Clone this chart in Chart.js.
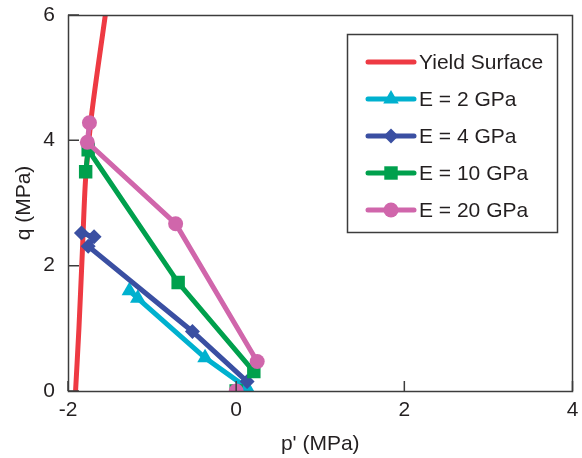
<!DOCTYPE html>
<html>
<head>
<meta charset="utf-8">
<script src="https://cdn.jsdelivr.net/npm/chart.js@4.4.1/dist/chart.umd.min.js"></script>
<style>
  html, body { margin: 0; padding: 0; background: #fff; }
</style>
</head>
<body>
<canvas id="myChart" width="582" height="458"></canvas>
<script>
// p' and q (MPa)
var seriesNames = ['Yield Surface', 'E = 2 GPa', 'E = 4 GPa', 'E = 10 GPa', 'E = 20 GPa'];
var yieldP = [-1.91, -1.87, -1.83, -1.79, -1.72, -1.556];
var yieldQ = [0, 1.0, 2.2, 3.4, 4.4, 6.0];
var e2P = [0.13, -0.37, -1.17, -1.27];
var e2Q = [0.05, 0.53, 1.48, 1.60];
var e4P = [0.13, -0.52, -1.76, -1.69, -1.84];
var e4Q = [0.15, 0.95, 2.31, 2.46, 2.52];
var e10P = [0, 0.21, -0.69, -1.76, -1.79];
var e10Q = [0, 0.31, 1.73, 3.85, 3.50];
var e20P = [0, 0.25, -0.72, -1.77, -1.745];
var e20Q = [0, 0.47, 2.67, 3.97, 4.28];
var xTicks = [-2, 0, 2, 4];
var yTicks = [0, 2, 4, 6];

var colorHex = ['#EE3A43', '#00B1CF', '#3A4FA2', '#00A04D', '#D066AB'];
var shapes = [false, 'triangle', 'rectRot', 'rect', 'circle'];
var radii = [0, 9, 7.5, 9.5, 7.5];
var textColor = '#231f20';
var frameColor = '#3c3c3c';

Chart.defaults.font.family = "'Liberation Sans', Arial, sans-serif";
Chart.defaults.font.size = 21;
Chart.defaults.color = textColor;

function pts(p, q) {
    return p.map(function (v, i) { return {x: v, y: q[i]}; });
}

// first point (origin) is not joined to the path
function skipFirst(ctx) {
    return ctx.p0DataIndex === 0 ? 'rgba(0,0,0,0)' : undefined;
}

function makeSet(i, p, q, hideFirst) {
    var ds = {
        label: seriesNames[i],
        data: pts(p, q),
        showLine: true,
        borderColor: colorHex[i],
        backgroundColor: colorHex[i],
        borderWidth: 5,
        pointStyle: shapes[i],
        pointRadius: radii[i],
        pointHoverRadius: radii[i],
        pointBorderWidth: 0,
        order: 5 - i
    };
    if (i === 0) ds.tension = 0.3;
    if (hideFirst) ds.segment = {borderColor: skipFirst};
    return ds;
}

// frame + inward tick marks
var framePlugin = {
    id: 'framePlugin',
    afterDraw: function (chart) {
        var ctx = chart.ctx;
        var a = chart.chartArea;
        var xs = chart.scales.x, ys = chart.scales.y;
        ctx.save();
        ctx.strokeStyle = frameColor;
        ctx.lineWidth = 1.5;
        ctx.strokeRect(a.left + 0.5, a.top + 0.5, a.right - a.left - 0.5, a.bottom - a.top);
        ctx.beginPath();
        xTicks.forEach(function (v) {
            var px = xs.getPixelForValue(v);
            ctx.moveTo(px, a.bottom);
            ctx.lineTo(px, a.bottom - 10);
        });
        yTicks.forEach(function (v) {
            var py = ys.getPixelForValue(v);
            ctx.moveTo(a.left, py);
            ctx.lineTo(a.left + 11, py);
        });
        ctx.stroke();
        ctx.restore();
    }
};

// boxed legend with line + marker, inside the plot
var boxLegend = {
    id: 'boxLegend',
    afterDraw: function (chart) {
        var ctx = chart.ctx;
        ctx.save();
        ctx.fillStyle = '#fff';
        ctx.fillRect(347, 34, 211, 199);
        ctx.strokeStyle = frameColor;
        ctx.lineWidth = 1.5;
        ctx.strokeRect(347.5, 34.5, 210, 198);
        chart.data.datasets.forEach(function (ds, i) {
            var y = 62 + i * 37;
            ctx.strokeStyle = ds.borderColor;
            ctx.lineWidth = 5;
            ctx.lineCap = 'round';
            ctx.beginPath();
            ctx.moveTo(368, y);
            ctx.lineTo(414, y);
            ctx.stroke();
            if (ds.pointStyle) {
                ctx.fillStyle = ds.borderColor;
                Chart.helpers.drawPoint(ctx, {pointStyle: ds.pointStyle, radius: ds.pointRadius, rotation: 0, borderWidth: 0}, 391, y);
            }
            ctx.fillStyle = textColor;
            ctx.font = "21px 'Liberation Sans', Arial, sans-serif";
            ctx.textBaseline = 'middle';
            ctx.textAlign = 'left';
            ctx.fillText(ds.label, 419, y + 1);
        });
        ctx.restore();
    }
};

var ctx = document.getElementById('myChart').getContext('2d');
var myChart = new Chart(ctx, {
    type: 'scatter',
    data: {
        datasets: [
            makeSet(0, yieldP, yieldQ, false),
            makeSet(1, e2P, e2Q, false),
            makeSet(2, e4P, e4Q, false),
            makeSet(3, e10P, e10Q, true),
            makeSet(4, e20P, e20Q, true)
        ]
    },
    options: {
        responsive: false,
        animation: false,
        devicePixelRatio: 1,
        layout: {padding: {top: 15, right: 4, left: 0, bottom: 0}},
        plugins: {
            legend: {display: false},
            tooltip: {enabled: false}
        },
        scales: {
            x: {
                type: 'linear',
                min: -2,
                max: 4,
                afterBuildTicks: function (s) { s.ticks = xTicks.map(function (v) { return {value: v}; }); },
                afterFit: function (s) { s.height = 67; s.paddingLeft = 0; s.paddingRight = 0; },
                grid: {display: false, drawTicks: false},
                border: {display: false},
                ticks: {padding: 7, color: textColor},
                title: {display: true, text: "p' (MPa)", color: textColor, padding: {top: 0, bottom: 1}}
            },
            y: {
                type: 'linear',
                min: 0,
                max: 6,
                afterBuildTicks: function (s) { s.ticks = yTicks.map(function (v) { return {value: v}; }); },
                afterFit: function (s) { s.width = 68; s.paddingTop = 0; s.paddingBottom = 0; },
                grid: {display: false, drawTicks: false},
                border: {display: false},
                ticks: {padding: 13, color: textColor},
                title: {display: true, text: 'q (MPa)', color: textColor, padding: {top: 12, bottom: 0}}
            }
        }
    },
    plugins: [framePlugin, boxLegend]
});
</script>
</body>
</html>
